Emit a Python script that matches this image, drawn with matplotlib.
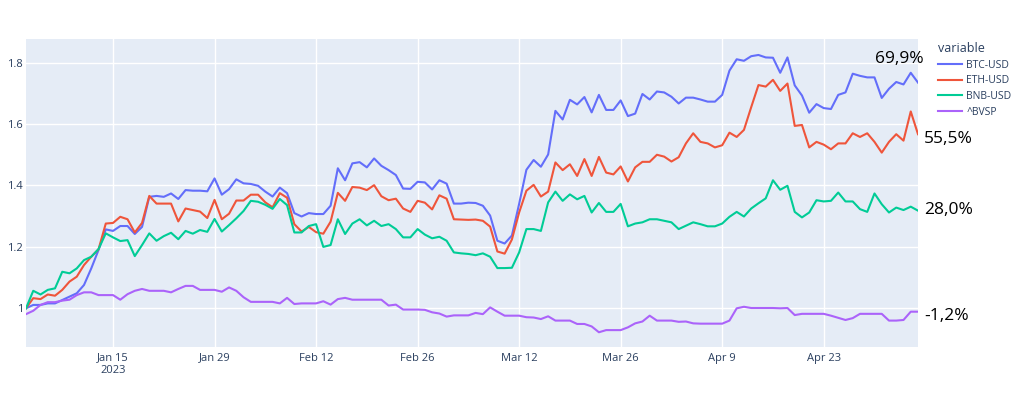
import matplotlib
matplotlib.use("Agg")
import matplotlib.pyplot as plt
import pandas as pd

# daily closes normalised to the first day, Jan 3 -> May 6 2023
dates = pd.date_range("2023-01-03", "2023-05-06", freq="D")

btc = [1.000, 1.011, 1.011, 1.016, 1.016, 1.027, 1.038, 1.049, 1.076, 1.130,
       1.190, 1.257, 1.252, 1.268, 1.268, 1.242, 1.265, 1.363, 1.366, 1.363,
       1.374, 1.356, 1.385, 1.383, 1.383, 1.381, 1.423, 1.370, 1.388, 1.420,
       1.407, 1.405, 1.399, 1.380, 1.364, 1.393, 1.375, 1.310, 1.299, 1.310,
       1.307, 1.307, 1.334, 1.456, 1.417, 1.472, 1.476, 1.459, 1.488, 1.464,
       1.450, 1.434, 1.390, 1.389, 1.412, 1.410, 1.387, 1.417, 1.406, 1.341,
       1.341, 1.344, 1.343, 1.334, 1.302, 1.220, 1.211, 1.237, 1.340, 1.451,
       1.483, 1.461, 1.501, 1.643, 1.615, 1.679, 1.664, 1.688, 1.638, 1.695,
       1.646, 1.646, 1.677, 1.626, 1.634, 1.698, 1.680, 1.706, 1.703, 1.689,
       1.667, 1.686, 1.686, 1.680, 1.673, 1.673, 1.695, 1.774, 1.811, 1.806,
       1.821, 1.825, 1.817, 1.816, 1.767, 1.817, 1.726, 1.693, 1.637, 1.665,
       1.652, 1.649, 1.695, 1.703, 1.764, 1.757, 1.752, 1.752, 1.685, 1.715,
       1.737, 1.729, 1.767, 1.735]

eth = [1.000, 1.033, 1.030, 1.045, 1.041, 1.060, 1.087, 1.103, 1.141, 1.168,
       1.192, 1.276, 1.278, 1.298, 1.290, 1.247, 1.278, 1.366, 1.341, 1.341,
       1.341, 1.283, 1.325, 1.320, 1.315, 1.294, 1.353, 1.290, 1.308, 1.351,
       1.351, 1.370, 1.370, 1.345, 1.329, 1.375, 1.360, 1.274, 1.250, 1.265,
       1.248, 1.243, 1.282, 1.376, 1.350, 1.395, 1.393, 1.385, 1.401, 1.365,
       1.352, 1.357, 1.325, 1.314, 1.350, 1.344, 1.322, 1.368, 1.357, 1.290,
       1.289, 1.288, 1.289, 1.285, 1.266, 1.185, 1.178, 1.224, 1.312, 1.383,
       1.402, 1.364, 1.380, 1.475, 1.450, 1.469, 1.431, 1.486, 1.431, 1.493,
       1.442, 1.436, 1.462, 1.413, 1.459, 1.477, 1.477, 1.500, 1.494, 1.478,
       1.492, 1.537, 1.570, 1.542, 1.537, 1.524, 1.531, 1.572, 1.558, 1.581,
       1.655, 1.727, 1.722, 1.744, 1.708, 1.732, 1.594, 1.597, 1.524, 1.542,
       1.533, 1.518, 1.537, 1.537, 1.570, 1.558, 1.570, 1.542, 1.507, 1.542,
       1.567, 1.546, 1.641, 1.567]

bnb = [1.000, 1.057, 1.045, 1.060, 1.065, 1.119, 1.114, 1.130, 1.157, 1.168,
       1.193, 1.244, 1.231, 1.219, 1.222, 1.170, 1.206, 1.244, 1.220, 1.235,
       1.246, 1.225, 1.252, 1.243, 1.255, 1.249, 1.291, 1.250, 1.271, 1.293,
       1.317, 1.350, 1.347, 1.337, 1.324, 1.356, 1.336, 1.247, 1.247, 1.268,
       1.274, 1.200, 1.206, 1.290, 1.242, 1.276, 1.290, 1.270, 1.285, 1.268,
       1.274, 1.258, 1.231, 1.231, 1.258, 1.240, 1.228, 1.233, 1.220, 1.182,
       1.179, 1.177, 1.173, 1.179, 1.168, 1.131, 1.131, 1.132, 1.182, 1.258,
       1.258, 1.252, 1.345, 1.380, 1.350, 1.371, 1.355, 1.366, 1.312, 1.343,
       1.314, 1.314, 1.340, 1.267, 1.276, 1.280, 1.290, 1.290, 1.285, 1.280,
       1.258, 1.269, 1.280, 1.274, 1.267, 1.267, 1.276, 1.298, 1.314, 1.299,
       1.325, 1.342, 1.358, 1.417, 1.386, 1.399, 1.314, 1.296, 1.312, 1.352,
       1.348, 1.350, 1.377, 1.348, 1.348, 1.323, 1.314, 1.374, 1.339, 1.312,
       1.328, 1.320, 1.331, 1.318]

bvsp = [0.981, 0.992, 1.011, 1.020, 1.020, 1.025, 1.028, 1.043, 1.052, 1.052,
        1.043, 1.043, 1.043, 1.028, 1.046, 1.057, 1.063, 1.057, 1.057, 1.057,
        1.052, 1.063, 1.073, 1.073, 1.060, 1.060, 1.060, 1.054, 1.068, 1.057,
        1.036, 1.021, 1.021, 1.021, 1.021, 1.016, 1.034, 1.014, 1.016, 1.016,
        1.016, 1.023, 1.012, 1.030, 1.034, 1.028, 1.028, 1.028, 1.028, 1.028,
        1.009, 1.012, 0.996, 0.996, 0.996, 0.995, 0.987, 0.983, 0.973, 0.977,
        0.977, 0.977, 0.985, 0.981, 1.003, 0.989, 0.976, 0.976, 0.976, 0.971,
        0.970, 0.965, 0.974, 0.960, 0.960, 0.960, 0.949, 0.949, 0.941, 0.922,
        0.929, 0.929, 0.929, 0.938, 0.951, 0.957, 0.976, 0.960, 0.960, 0.960,
        0.956, 0.957, 0.951, 0.950, 0.950, 0.950, 0.950, 0.960, 1.000, 1.005,
        1.001, 1.001, 1.001, 1.001, 1.000, 1.001, 0.978, 0.982, 0.982, 0.982,
        0.982, 0.976, 0.969, 0.962, 0.968, 0.982, 0.982, 0.982, 0.982, 0.960,
        0.960, 0.962, 0.989, 0.989]

names = ["BTC-USD", "ETH-USD", "BNB-USD", "^BVSP"]
colors = ["#636EFA", "#EF553B", "#00CC96", "#AB63FA"]
end_labels = ["69,9%", "55,5%", "28,0%", "-1,2%"]

tick_dates = pd.to_datetime(["2023-01-15", "2023-01-29", "2023-02-12", "2023-02-26",
                             "2023-03-12", "2023-03-26", "2023-04-09", "2023-04-23"])
tick_labels = ["Jan 15\n2023", "Jan 29", "Feb 12", "Feb 26",
               "Mar 12", "Mar 26", "Apr 9", "Apr 23"]
y_ticks = [1.0, 1.2, 1.4, 1.6, 1.8]
y_labels = ["1", "1.2", "1.4", "1.6", "1.8"]

plt.rcParams["font.family"] = ["Open Sans", "DejaVu Sans"]
txt = "#2a3f5f"

W, H = 1024, 396
fig = plt.figure(figsize=(W / 100, H / 100), dpi=100)
ax = fig.add_axes([26 / W, 1 - 347 / H, (918 - 26) / W, (347 - 39) / H])
ax.set_facecolor("#E5ECF6")

for name, vals, c in zip(names, [btc, eth, bnb, bvsp], colors):
    ax.plot(dates, vals, color=c, lw=1.5, label=name)

ax.set_xlim(dates[0], dates[-1])
ax.set_ylim(0.874, 1.877)
ax.set_xticks(tick_dates)
ax.set_xticklabels(tick_labels)
ax.set_yticks(y_ticks)
ax.set_yticklabels(y_labels)
ax.grid(True, color="white", lw=1)
ax.set_axisbelow(True)
for s in ax.spines.values():
    s.set_visible(False)
ax.tick_params(length=0, labelsize=8, colors=txt)
ax.tick_params(axis="x", pad=4)
ax.tick_params(axis="y", pad=2)

# percent labels on the right
label_pos = [(875, 59), (924, 139), (924, 210), (924, 316)]
for lab, (px, py) in zip(end_labels, label_pos):
    fig.text(px / W, 1 - py / H, lab, ha="left", va="center", fontsize=12.5, color="black")

leg = ax.legend(loc="upper left", bbox_to_anchor=(938 / W, 1 - 42 / H),
                bbox_transform=fig.transFigure, frameon=False, title="variable",
                alignment="left", fontsize=7.5, title_fontsize=9,
                handlelength=2.3, handletextpad=0.4, labelspacing=0.45,
                borderpad=0, borderaxespad=0)
for t in leg.get_texts():
    t.set_color(txt)
leg.get_title().set_color(txt)

fig.savefig("out.png", dpi=100)
